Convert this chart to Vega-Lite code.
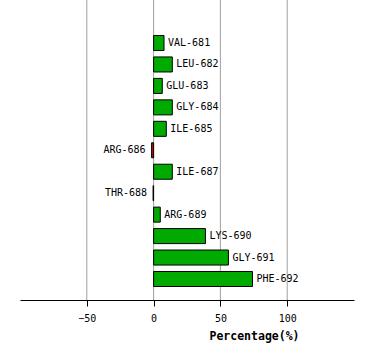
{
  "$schema": "https://vega.github.io/schema/vega-lite/v6.json",
  "width": 334,
  "height": 300,
  "autosize": {"type": "none"},
  "padding": {"left": 20, "top": 0, "right": 20, "bottom": 61},
  "background": "white",
  "config": {"view": {"stroke": null}},
  "data": {
    "values": [
      {"residue": "VAL-681", "value": 7.8},
      {"residue": "LEU-682", "value": 14.0},
      {"residue": "GLU-683", "value": 6.5},
      {"residue": "GLY-684", "value": 14.0},
      {"residue": "ILE-685", "value": 9.5},
      {"residue": "ARG-686", "value": -1.5},
      {"residue": "ILE-687", "value": 14.0},
      {"residue": "THR-688", "value": -0.4},
      {"residue": "ARG-689", "value": 5.0},
      {"residue": "LYS-690", "value": 38.8},
      {"residue": "GLY-691", "value": 56.0},
      {"residue": "PHE-692", "value": 74.0}
    ]
  },
  "layer": [
    {
      "data": {"values": [{"g": -50}, {"g": 0}, {"g": 50}, {"g": 100}]},
      "mark": {"type": "rule", "color": "#a0a0a0", "strokeWidth": 1},
      "encoding": {
        "x": {"field": "g", "type": "quantitative"}
      }
    },
    {
      "mark": {"type": "bar", "stroke": "black", "strokeWidth": 1},
      "encoding": {
        "y": {
          "field": "residue",
          "type": "nominal",
          "sort": null,
          "scale": {"range": [35.5, 286.5], "paddingInner": 0.3, "paddingOuter": 0},
          "axis": null
        },
        "x": {
          "field": "value",
          "type": "quantitative",
          "scale": {"domain": [-100, 150], "nice": false, "zero": false},
          "axis": {
            "values": [-50, 0, 50, 100],
            "grid": false,
            "domainColor": "black",
            "domainWidth": 1,
            "tickColor": "black",
            "tickSize": 6,
            "labelPadding": 7,
            "labelFont": "DejaVu Sans Mono",
            "labelFontSize": 10,
            "labelColor": "black",
            "title": "Percentage(%)",
            "titleFont": "DejaVu Sans Mono",
            "titleFontSize": 11.5,
            "titleFontWeight": "bold",
            "titleColor": "black",
            "titleX": 234,
            "titleY": 30,
            "titleAlign": "center",
            "titleBaseline": "top"
          }
        },
        "x2": {"datum": 0},
        "color": {
          "condition": {"test": "datum.value < 0", "value": "#cc0000"},
          "value": "#00aa00"
        }
      }
    },
    {
      "transform": [{"filter": "datum.value >= 0"}],
      "mark": {"type": "text", "align": "left", "baseline": "middle", "dx": 4, "font": "DejaVu Sans Mono", "fontSize": 10, "fill": "black"},
      "encoding": {
        "y": {"field": "residue", "type": "nominal", "sort": null},
        "x": {"field": "value", "type": "quantitative"},
        "text": {"field": "residue"}
      }
    },
    {
      "transform": [{"filter": "datum.value < 0"}],
      "mark": {"type": "text", "align": "right", "baseline": "middle", "dx": -6, "font": "DejaVu Sans Mono", "fontSize": 10, "fill": "black"},
      "encoding": {
        "y": {"field": "residue", "type": "nominal", "sort": null},
        "x": {"field": "value", "type": "quantitative"},
        "text": {"field": "residue"}
      }
    }
  ]
}
